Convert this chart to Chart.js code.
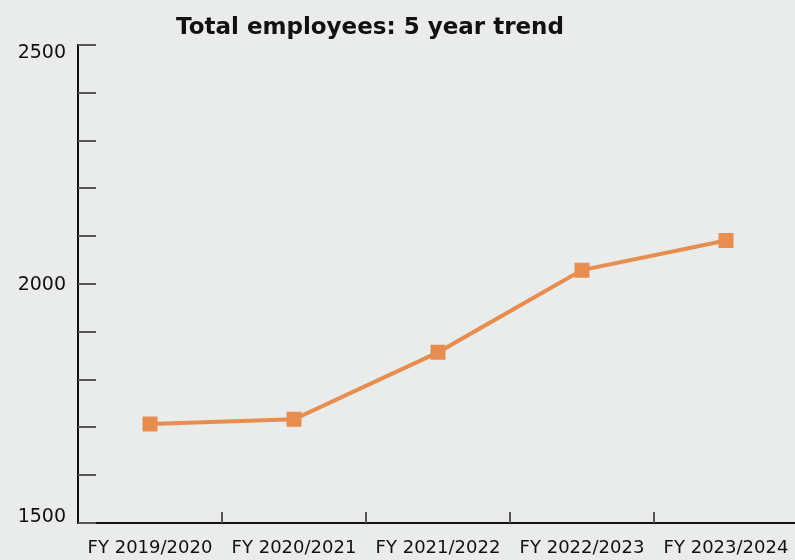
<!DOCTYPE html>
<html>
<head>
<meta charset="utf-8">
<script src="https://cdn.jsdelivr.net/npm/chart.js@4/dist/chart.umd.min.js"></script>
<style>
  html, body { margin: 0; padding: 0; background: #e9eceb; }
  #wrap { position: relative; width: 795px; height: 560px; overflow: hidden; background: #e9eceb; }
  canvas { display: block; }
</style>
</head>
<body>
<div id="wrap"><canvas id="chart" width="800" height="560"></canvas></div>
<script>
// Fiscal years and head count
const years = ['FY 2019/2020', 'FY 2020/2021', 'FY 2021/2022', 'FY 2022/2023', 'FY 2023/2024'];
const employees = [1707, 1717, 1857, 2029, 2091];
const yLabelValues = [1500, 2000, 2500];
const titleText = 'Total employees: 5 year trend';

const FONT = '"DejaVu Sans", sans-serif';
const INK = '#111111';
const TICK = '#555555';
const ORANGE = '#e68d4f';

// Inner tick marks on both axes, y labels kept inside the axis span, and the heading
const axisMarks = {
  id: 'axisMarks',
  afterDraw(chart) {
    const { ctx, chartArea, scales } = chart;
    const x = scales.x, y = scales.y;
    ctx.save();
    ctx.strokeStyle = TICK;
    ctx.lineWidth = 2;
    y.ticks.forEach(t => {
      const py = Math.round(y.getPixelForValue(t.value));
      ctx.beginPath();
      ctx.moveTo(chartArea.left, py);
      ctx.lineTo(chartArea.left + 18, py);
      ctx.stroke();
    });
    for (let i = 0; i < years.length - 1; i++) {
      const px = Math.round((x.getPixelForValue(i) + x.getPixelForValue(i + 1)) / 2);
      ctx.beginPath();
      ctx.moveTo(px, chartArea.bottom);
      ctx.lineTo(px, chartArea.bottom - 11);
      ctx.stroke();
    }
    // y labels
    ctx.fillStyle = INK;
    ctx.font = '19px ' + FONT;
    ctx.textAlign = 'right';
    ctx.textBaseline = 'alphabetic';
    yLabelValues.forEach(v => {
      const py = y.getPixelForValue(v);
      const base = Math.min(Math.max(py + 6, chartArea.top + 12.5), chartArea.bottom - 1.5);
      ctx.fillText(String(v), chartArea.left - 12, base);
    });
    // heading
    ctx.font = 'bold 23px ' + FONT;
    ctx.textAlign = 'center';
    ctx.fillText(titleText, 370, 34);
    ctx.restore();
  }
};

new Chart(document.getElementById('chart'), {
  type: 'line',
  data: {
    labels: years,
    datasets: [{
      label: 'Total employees',
      data: employees,
      borderColor: ORANGE,
      backgroundColor: ORANGE,
      borderWidth: 4,
      pointStyle: 'rect',
      pointRadius: 10.6,
      pointBorderWidth: 0,
      pointBackgroundColor: ORANGE,
      tension: 0
    }]
  },
  options: {
    responsive: false,
    animation: false,
    layout: { autoPadding: false, padding: { top: 45, right: 2, left: 0, bottom: 0 } },
    plugins: {
      legend: { display: false },
      title: { display: false },
      tooltip: { enabled: false }
    },
    scales: {
      x: {
        offset: true,
        grid: { display: true, drawOnChartArea: false, drawTicks: false, color: 'rgba(0,0,0,0)' },
        border: { display: true, color: INK, width: 2 },
        ticks: { color: INK, font: { family: FONT, size: 18 }, padding: 15, maxRotation: 0, autoSkip: false },
        afterFit(scale) {
          scale.height = 37;
          scale.paddingLeft = 0;
          scale.paddingRight = 0;
        }
      },
      y: {
        min: 1500,
        max: 2500,
        grid: { display: true, drawOnChartArea: false, drawTicks: false, color: 'rgba(0,0,0,0)' },
        border: { display: true, color: INK, width: 2 },
        ticks: { stepSize: 100, display: false },
        afterFit(scale) {
          scale.width = 78;
          scale.paddingTop = 0;
          scale.paddingBottom = 0;
        }
      }
    }
  },
  plugins: [axisMarks]
});
</script>
</body>
</html>
